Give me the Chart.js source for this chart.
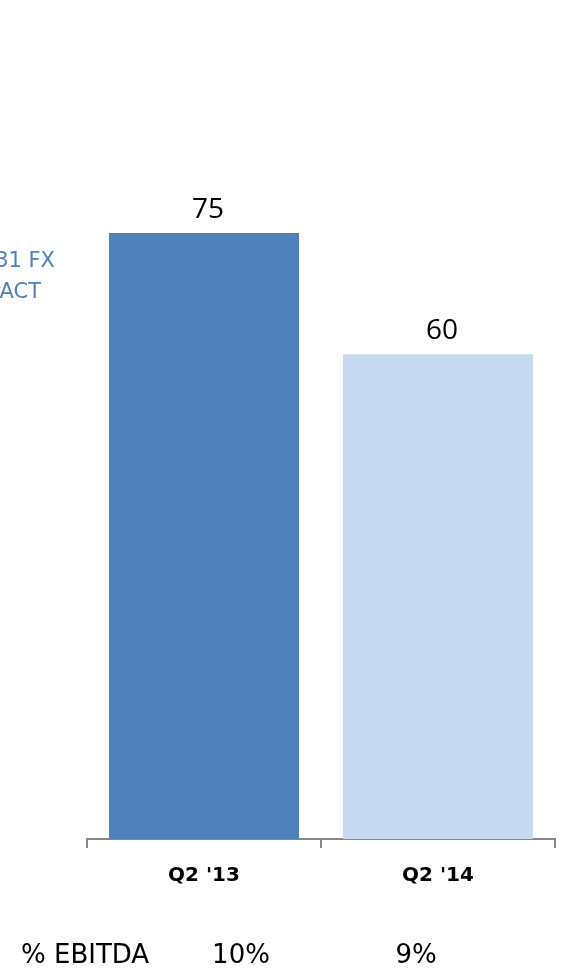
<!DOCTYPE html>
<html>
<head>
<meta charset="utf-8">
<script src="https://cdn.jsdelivr.net/npm/chart.js@4/dist/chart.umd.min.js"></script>
<style>
  body { margin: 0; background: #fff; }
  #wrap { width: 567px; height: 980px; }
</style>
</head>
<body>
<div id="wrap"><canvas id="ebitdaChart" width="567" height="980"></canvas></div>
<script>
var quarters = ["Q2 '13", "Q2 '14"];
var ebitda = [75, 60];
var ebitdaPct = ['10%', '9%'];
var barColors = ['#4F81BD', '#C6D9F1'];
var fxNote = ['@ 1.31 FX', 'IMPACT'];

// value labels above the bars
var valueLabels = {
    id: 'valueLabels',
    afterDatasetsDraw: function(chart) {
        var ctx = chart.ctx;
        var meta = chart.getDatasetMeta(0);
        ctx.save();
        ctx.font = '28px "Open Sans", sans-serif';
        ctx.fillStyle = '#000';
        ctx.textAlign = 'center';
        ctx.textBaseline = 'bottom';
        meta.data.forEach(function(bar, i) {
            ctx.fillText(ebitda[i], bar.x + 4, bar.y - 9);
        });
        ctx.restore();
    }
};

// side note and the % EBITDA row
var extraText = {
    id: 'extraText',
    afterDraw: function(chart) {
        var ctx = chart.ctx;
        ctx.save();
        ctx.font = '21px "DejaVu Sans", sans-serif';
        ctx.fillStyle = '#4F81BD';
        ctx.textAlign = 'right';
        ctx.textBaseline = 'middle';
        ctx.fillText(fxNote[0], 55, 262);
        ctx.fillText(fxNote[1], 41, 293);

        ctx.font = '26px "DejaVu Sans", sans-serif';
        ctx.fillStyle = '#000';
        ctx.textAlign = 'left';
        ctx.fillText('% EBITDA', 21, 956);
        ctx.textAlign = 'center';
        ctx.fillText(ebitdaPct[0], 241, 956);
        ctx.fillText(ebitdaPct[1], 416, 956);
        ctx.restore();
    }
};

var ctx = document.getElementById('ebitdaChart').getContext('2d');
var chart = new Chart(ctx, {
    type: 'bar',
    data: {
        labels: quarters,
        datasets: [{
            data: ebitda,
            backgroundColor: barColors,
            borderWidth: 0,
            barPercentage: 0.812,
            categoryPercentage: 1
        }]
    },
    options: {
        responsive: false,
        animation: false,
        layout: { padding: { left: 87, right: 12, top: 31, bottom: 0 } },
        plugins: {
            legend: { display: false },
            tooltip: { enabled: false }
        },
        scales: {
            y: {
                display: false,
                min: 0,
                max: 100
            },
            x: {
                afterFit: function(scale) { scale.height = 141; },
                border: { display: true, color: '#888', width: 2 },
                grid: {
                    offset: true,
                    drawOnChartArea: false,
                    drawTicks: true,
                    tickLength: 9,
                    color: '#888',
                    lineWidth: 2
                },
                ticks: {
                    color: '#000',
                    padding: 16,
                    font: { family: '"DejaVu Sans", sans-serif', size: 20, weight: 'bold' }
                }
            }
        }
    },
    plugins: [valueLabels, extraText]
});
</script>
</body>
</html>
